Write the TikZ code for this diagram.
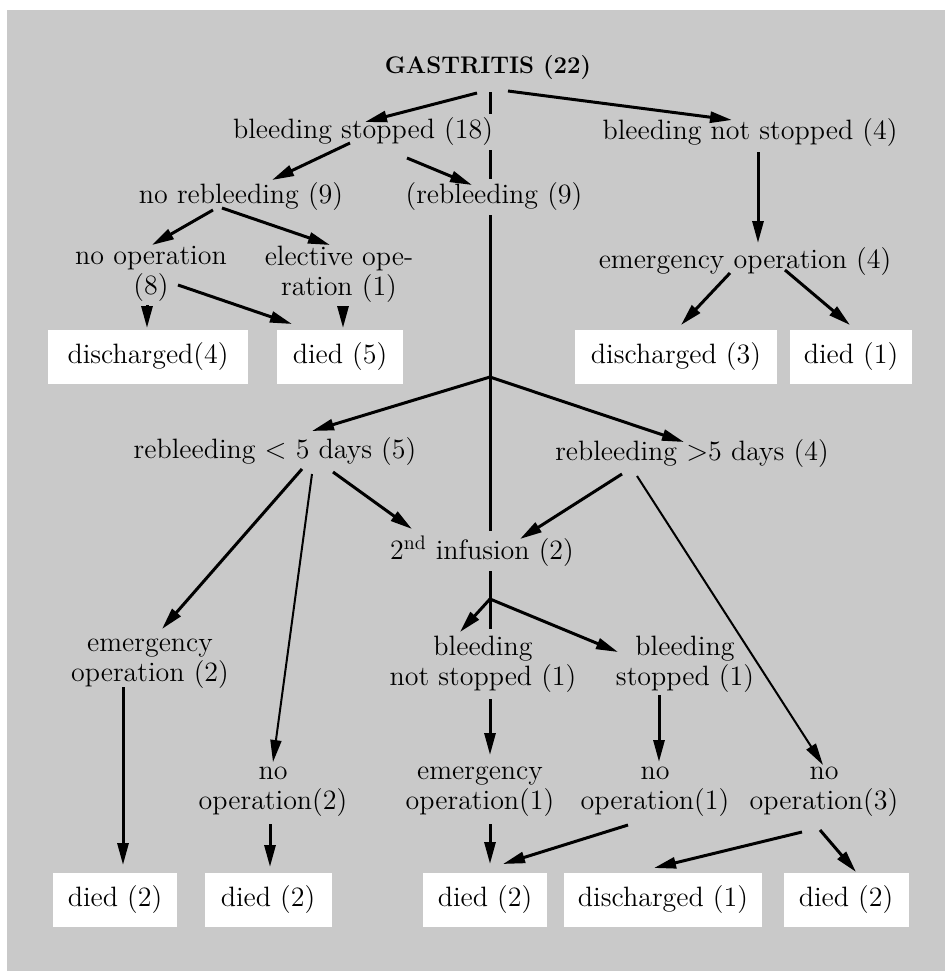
\documentclass[tikz,border=0pt]{standalone}
\usepackage{amsmath}
\usepackage{tikz}
\usetikzlibrary{arrows.meta}
\usetikzlibrary{calc}
\definecolor{paper}{gray}{0.79}
\pgfdeclarelayer{paperlayer}
\pgfdeclarelayer{trunklayer}
\pgfsetlayers{paperlayer,trunklayer,main}

\begin{document}
\begin{tikzpicture}[x=0.5pt,y=-0.5pt,
        lbl/.style={font=\fontsize{14}{15}\selectfont, align=center, inner sep=2pt, fill=paper},
        leaf/.style={font=\fontsize{14}{15}\selectfont, fill=white, inner sep=0pt, minimum height=27pt},
        bigarrow/.style={-{Triangle[length=11pt,width=5.5pt]}, line width=1.5pt},
        smallarrow/.style={-{Triangle[length=11pt,width=5.5pt]}, line width=1pt}]
        \newcommand{\gastrtrunkx}{490}
        \newcommand{\gastrhubay}{377}
        \newcommand{\gastrhubby}{599}
        \newcommand{\gastrstuby}{629}
        \newcommand{\gastrleafay}{357}
        \newcommand{\gastrleafby}{900}
        \useasboundingbox (0,0) rectangle (945,971);
        \begin{pgfonlayer}{paperlayer}
        \fill[white] (0,0) rectangle (945,971);
        \fill[paper] (7,10) rectangle (945,971);
        \end{pgfonlayer}
        \node[lbl,font=\fontsize{12}{14}\selectfont\bfseries] (gastr) at (488,68) {GASTRITIS (22)};
        \node[lbl] (bstop) at (363,132) {bleeding stopped (18)};
        \node[lbl] (bnot) at (750,133) {bleeding not stopped (4)};
        \node[lbl] (norebl) at (241,197) {no rebleeding (9)};
        \node[lbl] (rebl) at (494,197) {(rebleeding (9)};
        \node[lbl] (noop) at (151,274) {no operation\\(8)};
        \node[lbl] (elect) at (339,274) {elective ope-\\ration (1)};
        \node[lbl] (emop4) at (745,262) {emergency operation (4)};
        \node[leaf,minimum width=100pt] (dis4) at (148,\gastrleafay) {discharged(4)};
        \node[leaf,minimum width=63pt] (died5) at (340,\gastrleafay) {died (5)};
        \node[leaf,minimum width=101pt] (dis3) at (676,\gastrleafay) {discharged (3)};
        \node[leaf,minimum width=61pt] (died1) at (851,\gastrleafay) {died (1)};
        \coordinate (hub1) at (\gastrtrunkx,\gastrhubay);
        \node[lbl] (rbl5) at (275,452) {rebleeding $<$ 5 days (5)};
        \node[lbl] (rbg5) at (692,454) {rebleeding $>$5 days (4)};
        \node[lbl] (inf) at (482,551) {2\textsuperscript{nd} infusion (2)};
        \coordinate (hub2) at (\gastrtrunkx,\gastrhubby);
        \coordinate (stub) at (\gastrtrunkx,\gastrstuby);
        \node[lbl] (emop2) at (150,664) {emergency\\operation (2)};
        \node[lbl] (bnot1) at (483,664) {bleeding\\not stopped (1)};
        \node[lbl] (bst1) at (685,664) {bleeding\\stopped (1)};
        \node[lbl] (noop2) at (273,792) {no\\operation(2)};
        \node[lbl] (emop1) at (480,792) {emergency\\operation(1)};
        \node[lbl] (noop1) at (655,792) {no\\operation(1)};
        \node[lbl] (noop3) at (824,792) {no\\operation(3)};
        \node[leaf,minimum width=62pt] (d2a) at (115,\gastrleafby) {died (2)};
        \node[leaf,minimum width=63.5pt] (d2b) at (268,\gastrleafby) {died (2)};
        \node[leaf,minimum width=62pt] (d2c) at (485,\gastrleafby) {died (2)};
        \node[leaf,minimum width=99pt] (dis1) at (663,\gastrleafby) {discharged (1)};
        \node[leaf,minimum width=62.5pt] (d2e) at (846,\gastrleafby) {died (2)};
        \begin{pgfonlayer}{trunklayer}
        \draw[line width=1.5pt] ($(gastr)+(2,24)$) -- (hub1) -- (hub2) -- (stub);
        \end{pgfonlayer}
        \draw[bigarrow] ($(gastr)+(-11,25)$) -- ($(bstop)+(2,-10)$);
        \draw[bigarrow] ($(gastr)+(20,23)$) -- ($(bnot)+(-18,-13)$);
        \draw[bigarrow] ($(bstop)+(-13,11)$) -- ($(norebl)+(31,-17)$);
        \draw[bigarrow] ($(bstop)+(44,26)$) -- ($(rebl)+(-22,-12)$);
        \draw[bigarrow] ($(norebl)+(-28,13)$) -- ($(noop)+(1,-29)$);
        \draw[bigarrow] ($(norebl)+(-19,11)$) -- ($(elect)+(-9,-29)$);
        \draw[bigarrow] ($(noop)+(-4,31)$) -- ($(dis4)+(-1,-29)$);
        \draw[bigarrow] ($(noop)+(27,11)$) -- ($(died5)+(-48,-33)$);
        \draw[bigarrow] ($(elect)+(4,33)$) -- ($(died5)+(3,-29)$);
        \draw[bigarrow] ($(bnot)+(8,19)$) -- ($(emop4)+(13,-19)$);
        \draw[bigarrow] ($(emop4)+(-15,11)$) -- ($(dis3)+(5,-32)$);
        \draw[bigarrow] ($(emop4)+(40,8)$) -- ($(died1)+(-1,-32)$);
        \draw[bigarrow] (hub1) -- ($(rbl5)+(37,-21)$);
        \draw[bigarrow] (hub1) -- ($(rbg5)+(-8,-12)$);
        \draw[bigarrow] ($(rbl5)+(58,20)$) -- ($(inf)+(-70,-22)$);
        \draw[bigarrow] ($(rbg5)+(-70,20)$) -- ($(inf)+(38,-12)$);
        \draw[bigarrow] (hub2) -- ($(bnot1)+(-23,-32)$);
        \draw[bigarrow] (hub2) -- ($(bst1)+(-67,-12)$);
        \draw[bigarrow] ($(rbl5)+(27,17)$) -- ($(emop2)+(12,-35)$);
        \draw[smallarrow] ($(rbl5)+(37,22)$) -- ($(noop2)+(0,-30)$);
        \draw[smallarrow] ($(rbg5)+(-55,22)$) -- ($(noop3)+(-1,-27)$);
        \draw[bigarrow] ($(emop2)+(-27,23)$) -- ($(d2a)+(8,-35)$);
        \draw[bigarrow] ($(noop2)+(-3,32)$) -- ($(d2b)+(2,-33)$);
        \draw[bigarrow] ($(bnot1)+(7,35)$) -- ($(emop1)+(10,-37)$);
        \draw[bigarrow] ($(emop1)+(10,32)$) -- ($(d2c)+(5,-36)$);
        \draw[bigarrow] ($(noop1)+(-27,33)$) -- ($(d2c)+(18,-36)$);
        \draw[bigarrow] ($(bst1)+(-26,31)$) -- ($(noop1)+(4,-30)$);
        \draw[bigarrow] ($(noop3)+(-22,40)$) -- ($(dis1)+(-9,-32)$);
        \draw[bigarrow] ($(noop3)+(-4,38)$) -- ($(d2e)+(10,-28)$);
        \end{tikzpicture}
\end{document}
